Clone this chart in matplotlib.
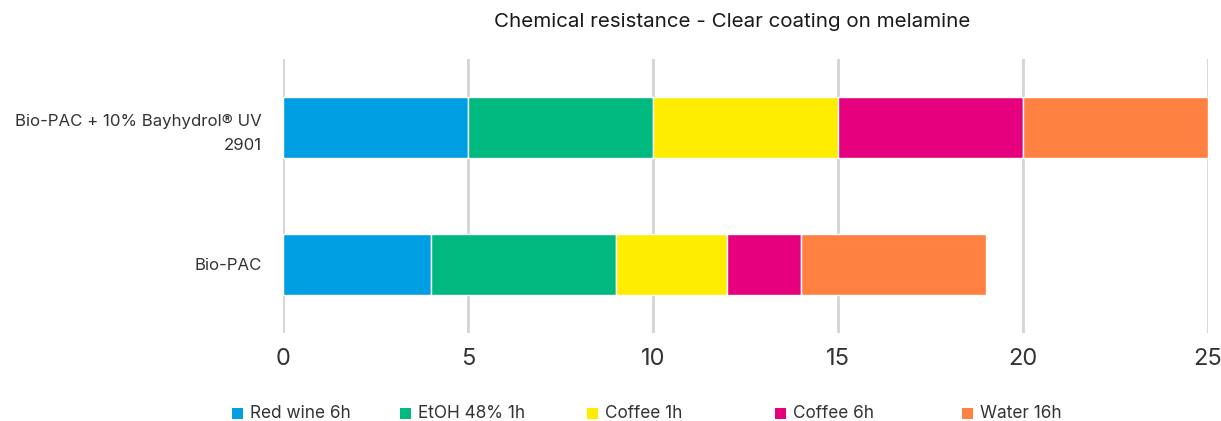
import numpy as np
import matplotlib
matplotlib.use("Agg")
import matplotlib.pyplot as plt
from matplotlib.patches import Rectangle

plt.rcParams['font.family'] = ['Inter', 'DejaVu Sans']
plt.rcParams['text.color'] = '#333333'

categories = ['Bio-PAC', 'Bio-PAC + 10% Bayhydrol® UV\n2901']
series = ['Red wine 6h', 'EtOH 48% 1h', 'Coffee 1h', 'Coffee 6h', 'Water 16h']
values = {
    'Red wine 6h': [4, 5],
    'EtOH 48% 1h': [5, 5],
    'Coffee 1h': [3, 5],
    'Coffee 6h': [2, 5],
    'Water 16h': [5, 5],
}
colors = ['#009FE3', '#00B97E', '#FFED00', '#E6007E', '#FF8040']
xticks = [0, 5, 10, 15, 20, 25]

W, H = 1221, 421
fig = plt.figure(figsize=(W / 100, H / 100), dpi=100)
ax = fig.add_axes([0.2318, 0.209, 0.7576, 0.651])

y = np.arange(len(categories))
left = np.zeros(len(categories))
for name, c in zip(series, colors):
    vals = np.array(values[name], dtype=float)
    ax.barh(y, vals, left=left, height=0.44, color=c, edgecolor='white',
            linewidth=1, zorder=3)
    left += vals

ax.set_xlim(0, 25)
ax.set_ylim(-0.5, 1.5)
ax.set_xticks(xticks)
ax.set_xticklabels([str(t) for t in xticks], fontsize=17, color='#333333')
ax.set_yticks(y)
ax.set_yticklabels(categories, fontsize=12.1, color='#333333', linespacing=1.75)
ax.tick_params(axis='both', length=0)
ax.tick_params(axis='x', pad=11)
ax.tick_params(axis='y', pad=15)
ax.grid(axis='x', color='#d4d4d4', linewidth=2, zorder=0)
for s in ax.spines.values():
    s.set_visible(False)

fig.text(0.6, 0.947, 'Chemical resistance - Clear coating on melamine',
         ha='center', va='center', fontsize=14.8, color='#1a1a1a')

# legend row: square swatch + label, laid out in pixels
legend_x = [232, 400, 587, 775, 962]
legend_y = 413
sq = 11
for px, name, c in zip(legend_x, series, colors):
    fig.patches.append(Rectangle((px / W, (H - legend_y - sq / 2) / H), sq / W, sq / H,
                                 transform=fig.transFigure, facecolor=c,
                                 edgecolor='none'))
    fig.text((px + 18) / W, (H - legend_y) / H, name, ha='left', va='center',
             fontsize=12.4, color='#333333')

fig.savefig('out.png', dpi=100)
